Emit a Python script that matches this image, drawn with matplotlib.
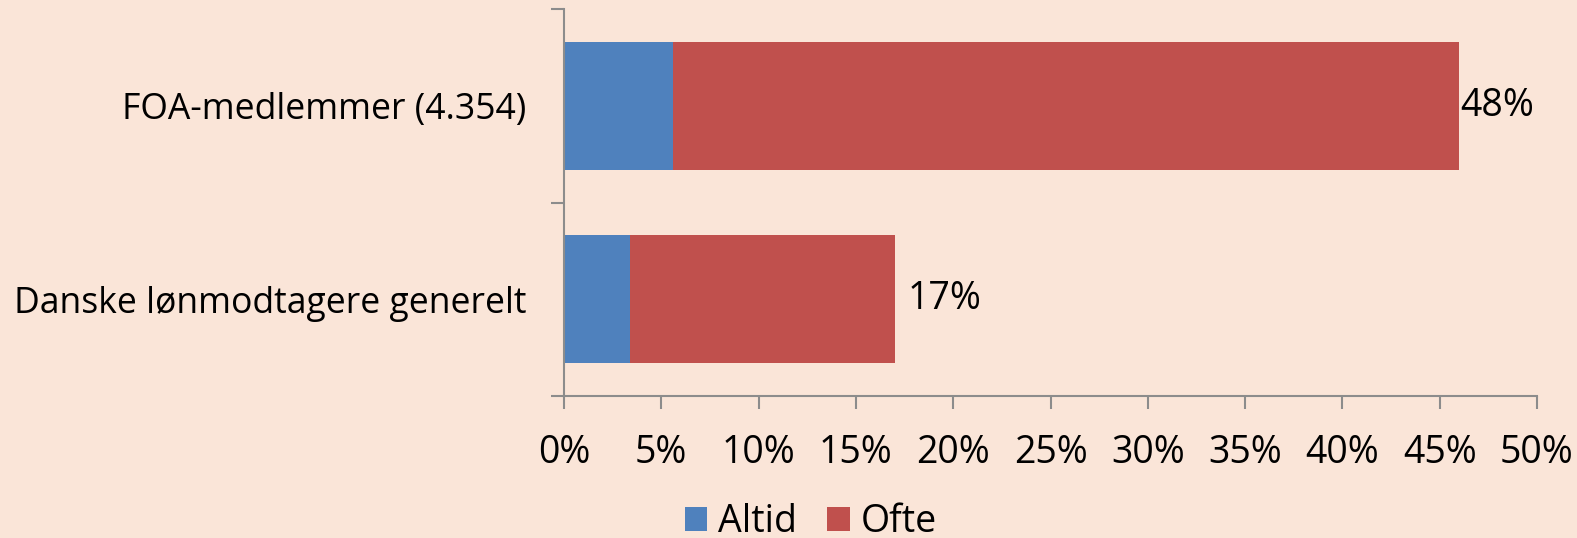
import matplotlib
matplotlib.use("Agg")
import matplotlib.pyplot as plt
from matplotlib.patches import Patch

categories = ["FOA-medlemmer (4.354)", "Danske lønmodtagere generelt"]
altid = [5.6, 3.4]
ofte = [40.4, 13.6]
total_labels = ["48%", "17%"]
label_offsets = [1, 13]  # px offset of total label from bar end
xticks = [0, 5, 10, 15, 20, 25, 30, 35, 40, 45, 50]
xticklabels = [f"{v}%" for v in xticks]

BG = "#FAE5D8"
BLUE = "#4F81BD"
RED = "#C0504D"
GRAY = "#8C8C8C"
FS = 27

plt.rcParams['font.family'] = ['Open Sans', 'DejaVu Sans']

fig = plt.figure(figsize=(15.77, 5.38), dpi=100, facecolor=BG)
ax = fig.add_axes([564/1577, 1-396/538, (1537-564)/1577, (396-9)/538])
ax.set_facecolor(BG)

# top category first
ypos = [1, 0]
ax.barh(ypos, altid, height=0.66, color=BLUE, edgecolor="none")
ax.barh(ypos, ofte, left=altid, height=0.66, color=RED, edgecolor="none")

for y, a, o, lab, off in zip(ypos, altid, ofte, total_labels, label_offsets):
    ax.annotate(lab, xy=(a + o, y), xytext=(off * 0.72, 0), textcoords="offset points",
                ha="left", va="center", fontsize=FS, color="black")

ax.set_xlim(0, 50)
ax.set_ylim(-0.5, 1.5)
ax.set_xticks(xticks)
ax.set_xticklabels(xticklabels, fontsize=FS)
ax.set_yticks([-0.5, 0.5, 1.5])
ax.set_yticklabels([])
ax.set_yticks(ypos, minor=True)
ax.set_yticklabels(categories, minor=True, fontsize=25.6)
ax.tick_params(axis="y", which="minor", length=0, pad=27)
ax.tick_params(axis="y", which="major", length=9.5, width=1.5, color=GRAY, direction="out")
ax.tick_params(axis="x", length=9.5, width=1.5, color=GRAY, direction="out", pad=18)

for s in ["top", "right"]:
    ax.spines[s].set_visible(False)
for s in ["left", "bottom"]:
    ax.spines[s].set_color(GRAY)
    ax.spines[s].set_linewidth(1.5)

handles = [Patch(facecolor=BLUE, label="Altid"), Patch(facecolor=RED, label="Ofte")]
fig.legend(handles=handles, loc="center", bbox_to_anchor=(811/1577, 1-522/538),
           ncol=2, frameon=False, fontsize=FS, handlelength=0.6, handleheight=0.6,
           handletextpad=0.3, columnspacing=0.8)

fig.savefig("out.png", dpi=100, facecolor=BG)
